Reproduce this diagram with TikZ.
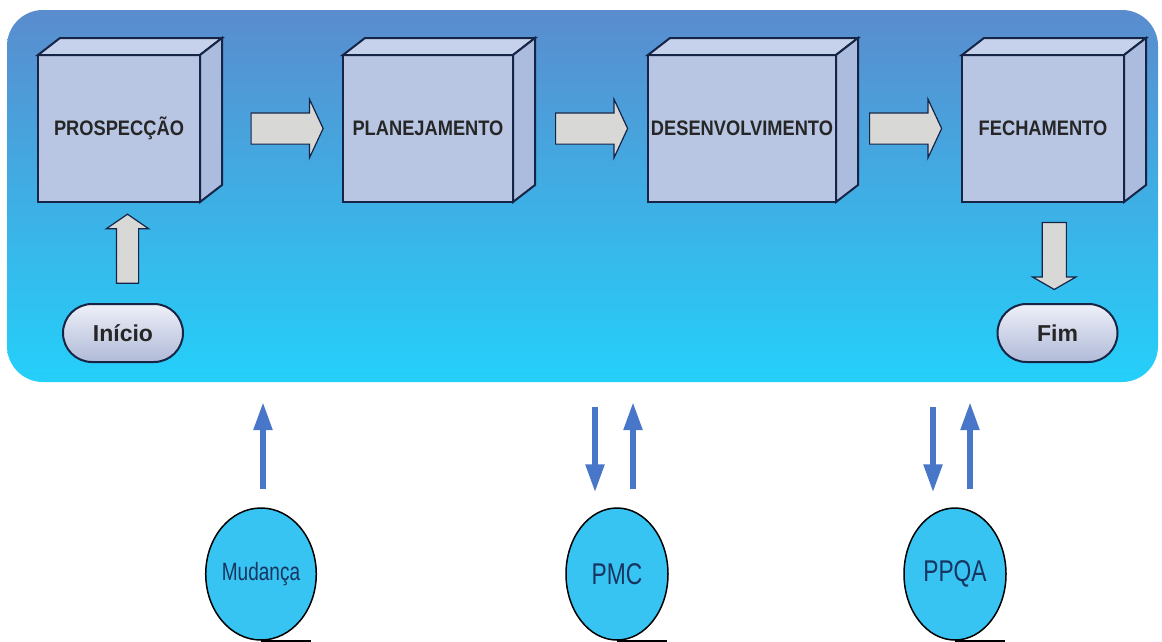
\documentclass[tikz,border=0pt]{standalone}
\usepackage{fontspec}
\usepackage{xcolor}
\usetikzlibrary{shapes.geometric,shapes.arrows,arrows.meta,calc}
\newfontfamily\boxfont[FakeStretch=0.87]{Liberation Sans}
\newfontfamily\pillfont{Liberation Sans}
\newfontfamily\tagfont[FakeStretch=0.76]{Liberation Sans}
\definecolor{bgt}{RGB}{90, 140, 206}
\definecolor{bgm}{RGB}{62, 172, 232}
\definecolor{bgb}{RGB}{36, 208, 250}
\definecolor{frt}{RGB}{184, 198, 228}
\definecolor{tpf}{RGB}{198, 210, 236}
\definecolor{sdf}{RGB}{172, 188, 222}
\definecolor{ink}{RGB}{22, 36, 70}
\definecolor{gry}{RGB}{216, 216, 214}
\definecolor{flw}{RGB}{72, 118, 200}
\definecolor{cyn}{RGB}{56, 196, 242}
\definecolor{txt}{RGB}{24, 52, 96}
\definecolor{plt}{RGB}{238, 240, 248}
\definecolor{plb}{RGB}{176, 186, 216}

\tikzset{
  panel/.style={rounded corners=36pt, top color=bgt, middle color=bgm, bottom color=bgb,
    minimum width=1151pt, minimum height=372pt, inner sep=0pt},
  face/.style={draw=ink, fill=frt, line width=2pt, inner sep=0pt, outer sep=0pt,
    minimum height=147pt, text=black!85,
    font=\boxfont\bfseries\fontsize{21}{24}\selectfont},
  topside/.style={draw=ink, fill=tpf, line width=2pt},
  rside/.style={draw=ink, fill=sdf, line width=2pt},
  garrow/.style={single arrow, draw=ink, fill=gry, line width=1.2pt, inner xsep=0pt},
  pill/.style={draw=ink, line width=2pt, rounded corners=29pt, top color=plt, bottom color=plb,
    minimum width=120pt, minimum height=58pt, text=black!85,
    font=\pillfont\bfseries\fontsize{23}{26}\selectfont},
  tag/.style={ellipse, draw=black, line width=1.5pt, fill=cyn, inner sep=0pt,
    minimum width=102pt, minimum height=132pt, text=txt},
  flow/.style={draw=flw, line width=5.5pt, -{Triangle[length=28pt,width=18pt]}}
}

\begin{document}
\begin{tikzpicture}[x=1pt, y=-1pt]
  \useasboundingbox[fill=white] (0,0) rectangle (1162,641);

  % fundo
  \node[panel] (panel) at (582.5,196) {};

  % fases
  \node[face, minimum width=162pt] (prosp) at (119,128.5) {PROSPECÇÃO};
  \draw[topside] (prosp.north west) -- ++(22,-17) -- ($(prosp.north east)+(22,-17)$) -- (prosp.north east) -- cycle;
  \draw[rside] (prosp.north east) -- ++(22,-17) -- ($(prosp.south east)+(22,-17)$) -- (prosp.south east) -- cycle;

  \node[face, minimum width=170pt] (plan) at (428,128.5) {PLANEJAMENTO};
  \draw[topside] (plan.north west) -- ++(22,-17) -- ($(plan.north east)+(22,-17)$) -- (plan.north east) -- cycle;
  \draw[rside] (plan.north east) -- ++(22,-17) -- ($(plan.south east)+(22,-17)$) -- (plan.south east) -- cycle;

  \node[face, minimum width=188pt] (desenv) at (742,128.5) {DESENVOLVIMENTO};
  \draw[topside] (desenv.north west) -- ++(22,-17) -- ($(desenv.north east)+(22,-17)$) -- (desenv.north east) -- cycle;
  \draw[rside] (desenv.north east) -- ++(22,-17) -- ($(desenv.south east)+(22,-17)$) -- (desenv.south east) -- cycle;

  \node[face, minimum width=162pt] (fech) at (1043,128.5) {FECHAMENTO};
  \draw[topside] (fech.north west) -- ++(22,-17) -- ($(fech.north east)+(22,-17)$) -- (fech.north east) -- cycle;
  \draw[rside] (fech.north east) -- ++(22,-17) -- ($(fech.south east)+(22,-17)$) -- (fech.south east) -- cycle;

  % inicio e fim
  \node[pill] (inicio) at (123,333) {Início};
  \node[pill] (fim) at (1057.5,333) {Fim};

  % setas cinzas
  \node[garrow, inner ysep=15pt, minimum height=72pt, single arrow head extend=13.5pt,
    single arrow tip angle=130] (a1) at ($(prosp.east)!.5!(plan.west)+(12,0)$) {};
  \node[garrow, inner ysep=15pt, minimum height=72pt, single arrow head extend=13.5pt,
    single arrow tip angle=130] (a2) at ($(plan.east)!.5!(desenv.west)+(7.5,0)$) {};
  \node[garrow, inner ysep=15pt, minimum height=72pt, single arrow head extend=13.5pt,
    single arrow tip angle=130] (a3) at ($(desenv.east)!.5!(fech.west)+(3,0)$) {};
  \node[garrow, rotate=90, inner ysep=10.5pt, minimum height=69pt,
    single arrow head extend=10pt, single arrow tip angle=111] (a0) at ($(prosp.south)!.5!(inicio.north)+(6.5,0)$) {};
  \node[garrow, rotate=-90, inner ysep=11.5pt, minimum height=67pt,
    single arrow head extend=9.5pt, single arrow tip angle=120] (a4) at ($(fech.south)!.5!(fim.north)+(4,0)$) {};

  % processos de apoio
  \node[tag, font=\tagfont\fontsize{25}{28}\selectfont] (mud) at (261,574) {Mudança};
  \node[tag, font=\tagfont\fontsize{30}{34}\selectfont] (pmc) at (617,574) {PMC};
  \node[tag, font=\tagfont\fontsize{30}{34}\selectfont] (ppqa) at (955,574) {PPQA};
  \draw[line width=1.5pt] (mud.south) -- ++(50,0);
  \draw[line width=1.5pt] (pmc.south) -- ++(50,0);
  \draw[line width=1.5pt] (ppqa.south) -- ++(50,0);

  \coordinate (pmcL) at ([xshift=-22pt]pmc.north);
  \coordinate (pmcR) at ([xshift=16pt]pmc.north);
  \coordinate (ppqaL) at ([xshift=-22pt]ppqa.north);
  \coordinate (ppqaR) at ([xshift=15pt]ppqa.north);

  \draw[flow, shorten <=18pt, shorten >=20pt] ([xshift=2pt]mud.north) -- ([xshift=2pt]mud.north |- panel.south);
  \draw[flow, shorten <=25pt, shorten >=15pt] (pmcL |- panel.south) -- (pmcL);
  \draw[flow, shorten <=18pt, shorten >=20pt] (pmcR) -- (pmcR |- panel.south);
  \draw[flow, shorten <=25pt, shorten >=15pt] (ppqaL |- panel.south) -- (ppqaL);
  \draw[flow, shorten <=18pt, shorten >=20pt] (ppqaR) -- (ppqaR |- panel.south);
\end{tikzpicture}
\end{document}
